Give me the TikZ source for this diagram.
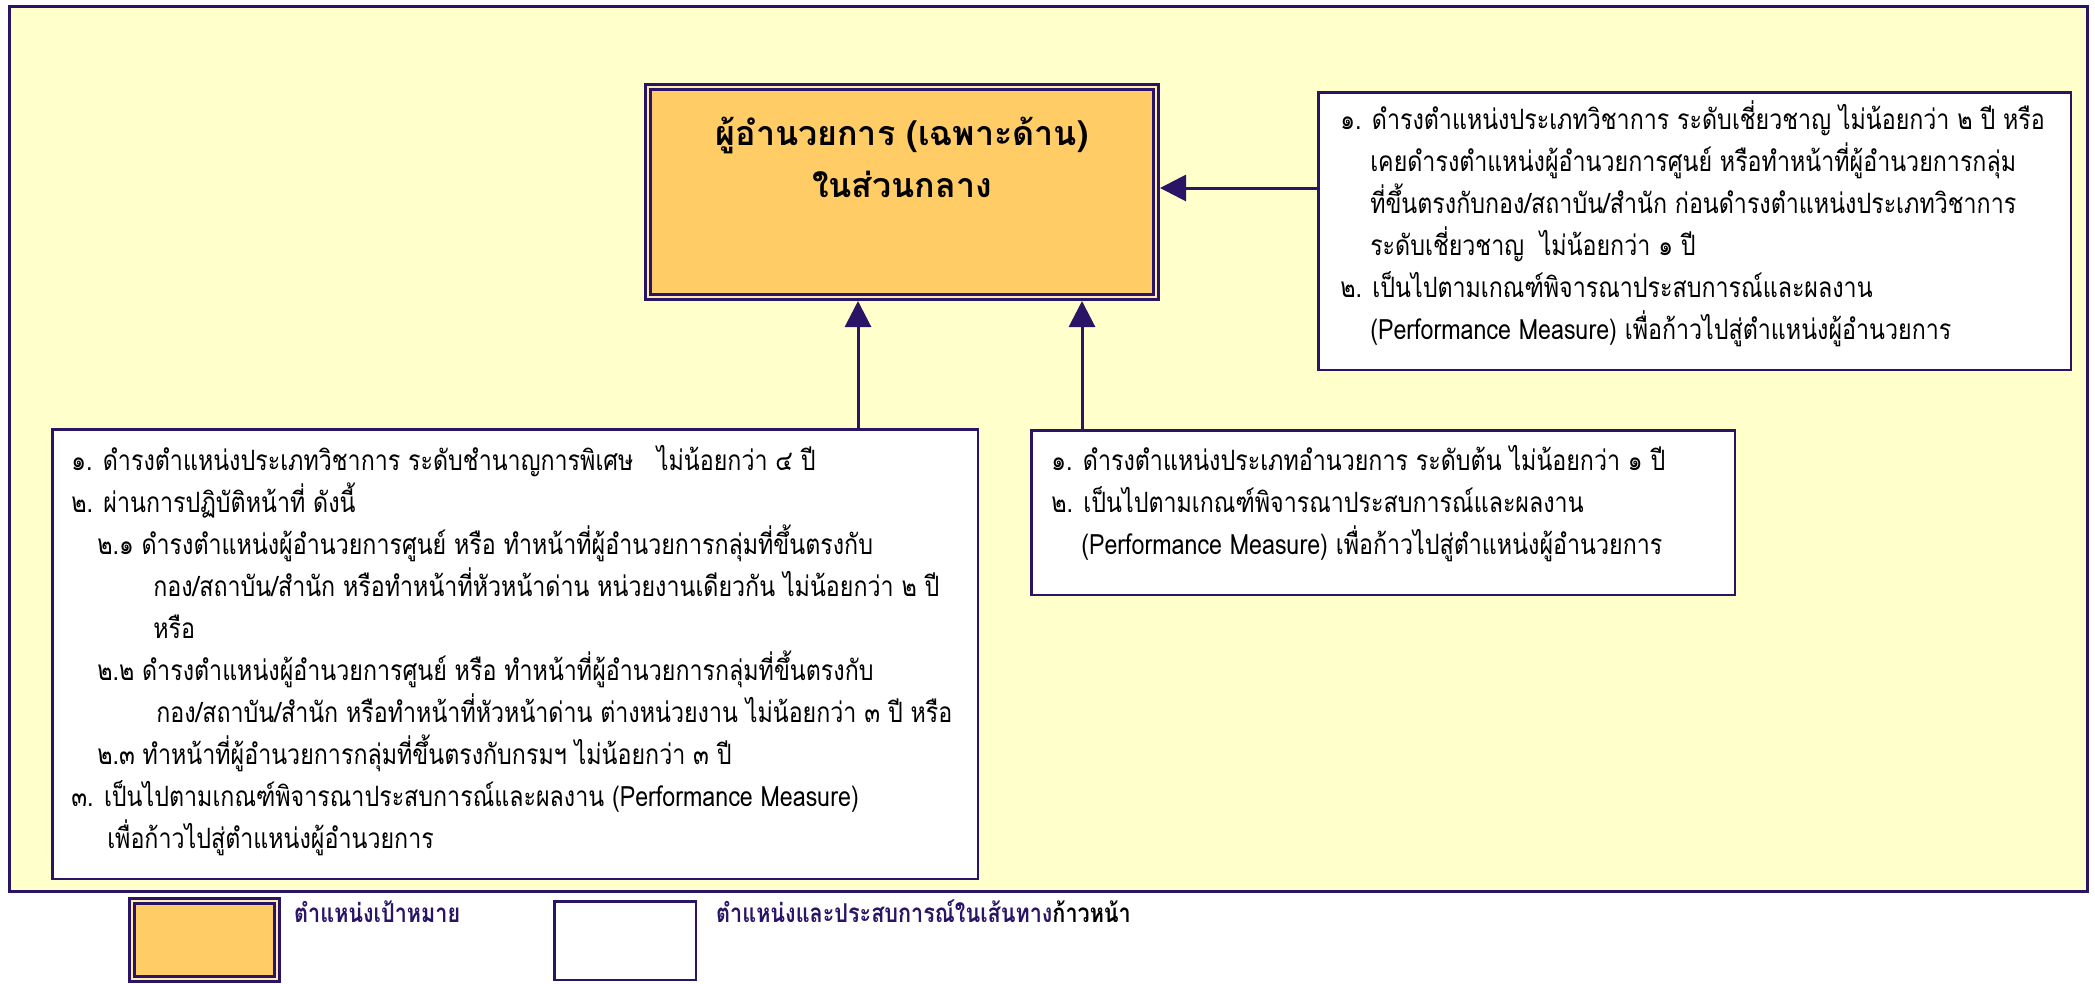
\documentclass[tikz,border=0pt]{standalone}
\usepackage{fontspec}
\newfontfamily\thaifont[Script=Thai,FakeStretch=0.83]{Loma}
\newfontfamily\thaihead[Script=Thai]{Loma}
\usetikzlibrary{arrows.meta}
\definecolor{navyline}{HTML}{2A1466}
\definecolor{paleyellow}{HTML}{FFFFCC}
\definecolor{goal}{HTML}{FFCC66}
\definecolor{goalgap}{HTML}{FFEBB0}
\tikzset{
FRAME/.style={draw=navyline,fill=paleyellow,line width=3pt},
TARGET/.style={draw=navyline,fill=goal,line width=3pt,double=goalgap,double distance=2pt,inner sep=0pt,outer sep=4pt,anchor=north west},
PATHBOX/.style={draw=navyline,fill=white,line width=2.5pt,inner xsep=#1,inner ysep=0pt,outer sep=1.25pt,anchor=north west,font=\thaifont\fontsize{28}{42}\selectfont},
PATHBOX/.default=20pt,
LINK/.style={draw=navyline,line width=3pt,-{Triangle[length=26pt,width=26pt]}},
KEYTEXT/.style={anchor=base west,inner sep=0pt,text=navyline,font=\thaifont\bfseries\fontsize{26}{30}\selectfont},
}

\begin{document}
\begin{tikzpicture}[x=1pt,y=-1pt] %career path
	\useasboundingbox (0,0) rectangle (2095,983);
	\path[FRAME] (9.5,6.5) rectangle (2087,891);
	\node[TARGET] (main) at (644,83) {\begin{minipage}[t][210pt][t]{508pt}\centering\thaihead\bfseries\fontsize{34}{52}\selectfont
		\rule{0pt}{58pt}ผู้อำนวยการ (เฉพาะด้าน)\\ ในส่วนกลาง\end{minipage}};
	\node[PATHBOX=22pt] (rbox) at (1317,91) {\begin{minipage}[t][277.5pt][t]{708.5pt}\raggedright
		\rule{0pt}{37pt}๑. ดำรงตำแหน่งประเภทวิชาการ ระดับเชี่ยวชาญ ไม่น้อยกว่า ๒ ปี หรือ\\
		\hspace*{30pt}เคยดำรงตำแหน่งผู้อำนวยการศูนย์ หรือทำหน้าที่ผู้อำนวยการกลุ่ม\\
		\hspace*{30pt}ที่ขึ้นตรงกับกอง/สถาบัน/สำนัก ก่อนดำรงตำแหน่งประเภทวิชาการ\\
		\hspace*{30pt}ระดับเชี่ยวชาญ\ \ ไม่น้อยกว่า ๑ ปี\\
		๒. เป็นไปตามเกณฑ์พิจารณาประสบการณ์และผลงาน\\
		\hspace*{30pt}(Performance Measure) เพื่อก้าวไปสู่ตำแหน่งผู้อำนวยการ\end{minipage}};
	\node[PATHBOX=20pt] (mbox) at (1030,429) {\begin{minipage}[t][164.5pt][t]{663.5pt}\raggedright
		\rule{0pt}{40pt}๑. ดำรงตำแหน่งประเภทอำนวยการ ระดับต้น ไม่น้อยกว่า ๑ ปี\\
		๒. เป็นไปตามเกณฑ์พิจารณาประสบการณ์และผลงาน\\
		\hspace*{30pt}(Performance Measure) เพื่อก้าวไปสู่ตำแหน่งผู้อำนวยการ\end{minipage}};
	\node[PATHBOX=19pt] (lbox) at (51,428) {\begin{minipage}[t][449.5pt][t]{887.5pt}\raggedright
		\rule{0pt}{41pt}๑. ดำรงตำแหน่งประเภทวิชาการ ระดับชำนาญการพิเศษ\ \ \ ไม่น้อยกว่า ๔ ปี\\
		๒. ผ่านการปฏิบัติหน้าที่ ดังนี้\\
		\hspace*{26pt}๒.๑ ดำรงตำแหน่งผู้อำนวยการศูนย์ หรือ ทำหน้าที่ผู้อำนวยการกลุ่มที่ขึ้นตรงกับ\\
		\hspace*{82pt}กอง/สถาบัน/สำนัก หรือทำหน้าที่หัวหน้าด่าน หน่วยงานเดียวกัน ไม่น้อยกว่า ๒ ปี\\
		\hspace*{82pt}หรือ\\
		\hspace*{26pt}๒.๒ ดำรงตำแหน่งผู้อำนวยการศูนย์ หรือ ทำหน้าที่ผู้อำนวยการกลุ่มที่ขึ้นตรงกับ\\
		\hspace*{85pt}กอง/สถาบัน/สำนัก หรือทำหน้าที่หัวหน้าด่าน ต่างหน่วยงาน ไม่น้อยกว่า ๓ ปี หรือ\\
		\hspace*{26pt}๒.๓ ทำหน้าที่ผู้อำนวยการกลุ่มที่ขึ้นตรงกับกรมฯ ไม่น้อยกว่า ๓ ปี\\
		๓. เป็นไปตามเกณฑ์พิจารณาประสบการณ์และผลงาน (Performance Measure)\\
		\hspace*{36pt}เพื่อก้าวไปสู่ตำแหน่งผู้อำนวยการ\end{minipage}};
	\path[LINK] (858,0 |- lbox.north) -- (858,0 |- main.south);
	\path[LINK] (1082,0 |- mbox.north) -- (1082,0 |- main.south);
	\path[LINK] (rbox.west |- 0,188) -- (main.east |- 0,188);
	% legend
	\node[TARGET,minimum width=145pt,minimum height=78pt] (keygoal) at (128,897) {};
	\node[KEYTEXT] (keygoaltext) at (294,922) {ตำแหน่งเป้าหมาย};
	\node[PATHBOX,minimum width=141.5pt,minimum height=78.5pt] (keystep) at (553,900) {};
	\node[KEYTEXT] (keysteptext) at (716,922) {ตำแหน่งและประสบการณ์ในเส้นทาง\textcolor{black}{ก้าวหน้า}};
\end{tikzpicture}
\end{document}
